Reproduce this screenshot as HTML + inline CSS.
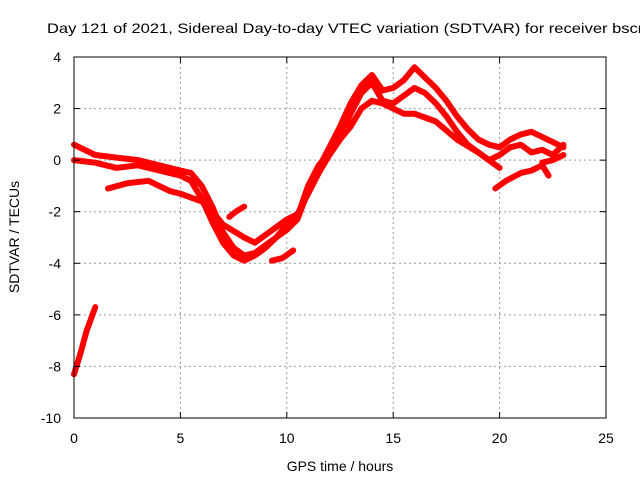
<!DOCTYPE html>
<html><head><meta charset="utf-8"><style>
body{margin:0;background:#fff}
svg{display:block;font-family:"Liberation Sans",sans-serif}
</style></head><body>
<svg id="chart" width="640" height="480" viewBox="0 0 640 480">
<text x="47" y="33" font-size="14" textLength="600" lengthAdjust="spacingAndGlyphs">Day 121 of 2021, Sidereal Day-to-day VTEC variation (SDTVAR) for receiver bscn</text>
<g id="grid"></g>
<g id="series"></g>
<rect x="74" y="57" width="532" height="361" fill="none" stroke="#000" stroke-width="1"/>
<g id="ticks"></g>
<text x="340" y="471" font-size="14" text-anchor="middle">GPS time / hours</text>
<text transform="translate(19,237) rotate(-90)" font-size="14" text-anchor="middle">SDTVAR / TECUs</text>
</svg>
<script>
const xTicks=[0,5,10,15,20,25];
const yTicks=[4,2,0,-2,-4,-6,-8,-10];
const s1Hours=[0,1,2,3,4,5,5.5,6,6.5,7,7.5,8,8.5,9,9.5,10,10.5,11,11.5,12,12.5,13,13.5,14,14.5,15,15.5,16,16.5,17,17.5,18,18.5,19,19.5,20,20.5,21,21.5,22,22.5,23];
const s1Vals=[0.6,0.2,0.1,0,-0.2,-0.4,-0.5,-1,-1.8,-2.8,-3.4,-3.7,-3.6,-3.3,-3,-2.7,-2.3,-1.2,-0.3,0.5,1.3,2.2,2.9,3.3,2.7,2.8,3.1,3.6,3.2,2.8,2.3,1.7,1.2,0.8,0.6,0.5,0.8,1.0,1.1,0.9,0.7,0.5];
const s2Hours=[0,1,2,3,4,5,5.5,6,6.5,7,7.5,8,8.5,9,9.5,10,10.5,11,11.5,12,12.5,13,13.5,14,14.5,15,15.5,16,16.5,17,17.5,18,18.5,19,19.5,20,20.5,21,21.5,22,22.5,23];
const s2Vals=[0,-0.1,-0.3,-0.2,-0.4,-0.6,-0.8,-1.5,-2.4,-3.2,-3.7,-3.9,-3.7,-3.4,-3.0,-2.5,-2.2,-1.0,-0.2,0.3,0.9,1.8,2.6,3.0,2.3,2.2,2.5,2.8,2.6,2.2,1.7,1.1,0.6,0.3,0.0,0.2,0.5,0.6,0.3,0.4,0.2,0.6];
const s3Hours=[1.6,2.5,3.5,4.5,5,6,6.5,7,8,8.5,9,9.5,10,10.5,11,11.5,12,12.5,13,13.5,14,14.5,15,15.5,16,17,18,19,20];
const s3Vals=[-1.1,-0.9,-0.8,-1.2,-1.3,-1.6,-2.0,-2.5,-3.0,-3.2,-2.9,-2.6,-2.3,-2.1,-1.3,-0.5,0.2,0.8,1.3,2.0,2.3,2.2,2.0,1.8,1.8,1.5,0.8,0.3,-0.3];
const s4Hours=[7.3,7.6,8.0];
const s4Vals=[-2.2,-2.0,-1.8];
const s5Hours=[9.3,9.8,10.3];
const s5Vals=[-3.9,-3.8,-3.5];
const s6Hours=[19.8,20.3,21,21.5,22,22.3];
const s6Vals=[-1.1,-0.8,-0.5,-0.4,-0.2,-0.6];
const s7Hours=[22,22.5,23];
const s7Vals=[-0.1,0,0.2];
const s8Hours=[0,0.3,0.6,1.0];
const s8Vals=[-8.3,-7.5,-6.6,-5.7];
const seriesList=[[s1Hours,s1Vals],[s2Hours,s2Vals],[s3Hours,s3Vals],[s4Hours,s4Vals],[s5Hours,s5Vals],[s6Hours,s6Vals],[s7Hours,s7Vals],[s8Hours,s8Vals]];
const X0=74,X1=606,Y0=418,Y1=57;
function xs(v){return X0+(v-0)/(25-0)*(X1-X0);}
function ys(v){return Y0-(v+10)/14*(Y0-Y1);}
const NS="http://www.w3.org/2000/svg";
const grid=document.getElementById('grid'),ticks=document.getElementById('ticks'),ser=document.getElementById('series');
function mk(tag,attrs,parent){const e=document.createElementNS(NS,tag);for(const k in attrs)e.setAttribute(k,attrs[k]);parent.appendChild(e);return e;}
xTicks.forEach(t=>{
 const x=xs(t);
 if(t>0&&t<25){const g=mk('line',{x1:x,x2:x,y1:Y1,y2:Y0,stroke:'#999','stroke-dasharray':'2,3'},grid);
 
 }
 const a=mk('line',{x1:x,x2:x,y1:Y0,y2:Y0-6,stroke:'#000'},ticks);
 
 
 const b=mk('line',{x1:x,x2:x,y1:Y1,y2:Y1+6,stroke:'#000'},ticks);
 
 
 const l=mk('text',{x:x,y:443,'font-size':14,'text-anchor':'middle'},ticks);l.textContent=t;
 
 
});
yTicks.forEach(t=>{
 const y=ys(t);
 if(t>-10&&t<4){const g=mk('line',{x1:X0,x2:X1,y1:y,y2:y,stroke:'#999','stroke-dasharray':'2,3'},grid);
 
 }
 const a=mk('line',{x1:X0,x2:X0+6,y1:y,y2:y,stroke:'#000'},ticks);
 
 
 const b=mk('line',{x1:X1,x2:X1-6,y1:y,y2:y,stroke:'#000'},ticks);
 
 
 const l=mk('text',{x:61,y:y+5,'font-size':14,'text-anchor':'end'},ticks);l.textContent=t;
 
 
});
seriesList.forEach(([h,v])=>{
 const pts=h.map((hh,i)=>xs(hh).toFixed(1)+','+ys(v[i]).toFixed(1)).join(' ');
 const p=mk('polyline',{points:pts,fill:'none',stroke:'#f00','stroke-width':6,'stroke-linejoin':'round','stroke-linecap':'round'},ser);
 
 
});
</script>
</body></html>
